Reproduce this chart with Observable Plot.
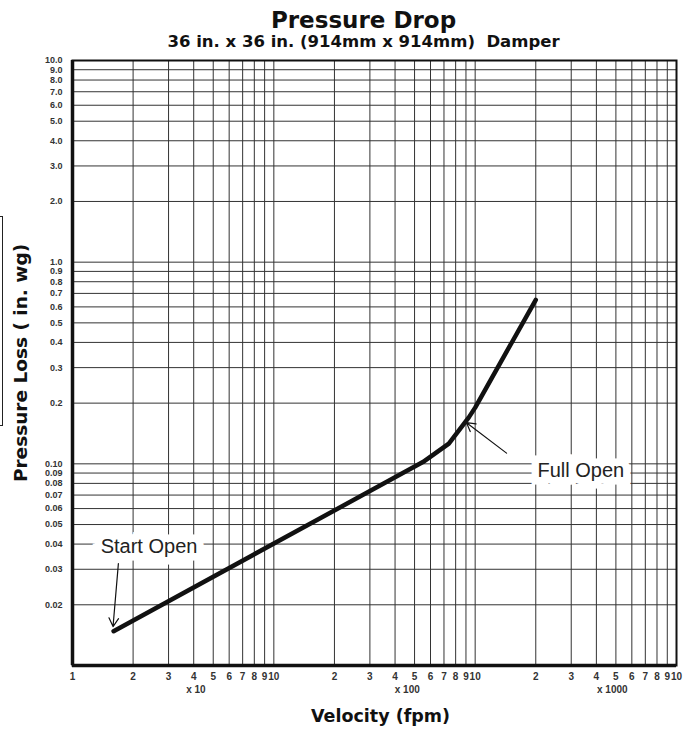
<!DOCTYPE html>
<html>
<head>
<meta charset="utf-8">
<script src="https://cdn.jsdelivr.net/npm/d3@7"></script>
<script src="https://cdn.jsdelivr.net/npm/@observablehq/plot@0.6"></script>
<style>
  html, body { margin: 0; padding: 0; background: #fff; }
  #wrap { position: relative; width: 693px; height: 734px; }
  #bracket { position: absolute; left: -4px; top: 216px; width: 6px; height: 208px;
             border: 1.5px solid #222; border-left: none; }
  svg { font-family: "Liberation Sans", Arial, Helvetica, sans-serif; }
</style>
</head>
<body>
<div id="wrap"><div id="bracket"></div></div>
<script>
// ---- data ----
const velocity = [16, 550, 740, 930, 1000, 2000];          // fpm
const pressure = [0.0148, 0.102, 0.126, 0.170, 0.19, 0.65]; // in. wg

const xTicks = [10,20,30,40,50,60,70,80,90,100,200,300,400,500,600,700,800,900,1000,2000,3000,4000,5000,6000,7000,8000,9000,10000];
const xTickLabels = ["1","2","3","4","5","6","7","8","9","10","2","3","4","5","6","7","8","9","10","2","3","4","5","6","7","8","9","10"];
const xMultPos = [41, 460, 4800];
const xMultLabels = ["x 10", "x 100", "x 1000"];

const yTicks = [0.02,0.03,0.04,0.05,0.06,0.07,0.08,0.09,0.1,0.2,0.3,0.4,0.5,0.6,0.7,0.8,0.9,1,2,3,4,5,6,7,8,9,10];
const yTickLabels = ["0.02","0.03","0.04","0.05","0.06","0.07","0.08","0.09","0.10","0.2","0.3","0.4","0.5","0.6","0.7","0.8","0.9","1.0","2.0","3.0","4.0","5.0","6.0","7.0","8.0","9.0","10.0"];

const noteLabels = ["Start Open", "Full Open"];
const noteX = [24, 3350];
const noteY = [0.039, 0.093];
const arrowX1 = [16.9, 1432];
const arrowY1 = [0.032, 0.113];
const arrowX2 = [15.9, 906];
const arrowY2 = [0.0156, 0.160];

const title = "Pressure Drop";
const subtitle = "36 in. x 36 in. (914mm x 914mm)  Damper";
const xTitle = "Velocity (fpm)";
const yTitle = "Pressure Loss ( in. wg)";

// ---- tables ----
const curve = velocity.map((v, i) => ({v, p: pressure[i]}));
const xt = xTicks.map((v, i) => ({v, label: xTickLabels[i]}));
const yt = yTicks.map((v, i) => ({v, label: yTickLabels[i]}));
const mult = xMultPos.map((v, i) => ({v, label: xMultLabels[i]}));
const notes = noteLabels.map((t, i) => ({t, x: noteX[i], y: noteY[i]}));
const arrows = arrowX1.map((x1, i) => ({x1, y1: arrowY1[i], x2: arrowX2[i], y2: arrowY2[i]}));

const heavy = "'DejaVu Sans', 'Liberation Sans', sans-serif";

const chart = Plot.plot({
  width: 693,
  height: 734,
  marginTop: 60,
  marginBottom: 69,
  marginLeft: 72,
  marginRight: 17,
  x: {type: "log", domain: [10, 10000], axis: null},
  y: {type: "log", domain: [0.01, 10], axis: null},
  marks: [
    Plot.ruleX(xt, {x: "v", stroke: "#333", strokeWidth: 1}),
    Plot.ruleY(yt, {y: "v", stroke: "#333", strokeWidth: 1}),
    Plot.frame({stroke: "#111", strokeWidth: 2}),
    Plot.ruleX([10], {stroke: "#111", strokeWidth: 3.5}),
    Plot.ruleY([0.01], {stroke: "#111", strokeWidth: 3.5}),
    Plot.line(curve, {x: "v", y: "p", stroke: "#111", strokeWidth: 4.5, strokeLinejoin: "round"}),
    Plot.arrow(arrows, {x1: "x1", y1: "y1", x2: "x2", y2: "y2", stroke: "#111", strokeWidth: 1.2, headLength: 12, bend: false}),
    Plot.text(notes, {x: "x", y: "y", text: "t", fontSize: 20, fill: "#222", lineAnchor: "middle",
      stroke: "white", strokeWidth: 15, strokeLinejoin: "miter", paintOrder: "stroke"}),
    // tick labels
    Plot.text(xt, {x: "v", text: "label", frameAnchor: "bottom", lineAnchor: "middle", dy: 11, fontSize: 10, fontWeight: "bold", fill: "#333"}),
    Plot.text(mult, {x: "v", text: "label", frameAnchor: "bottom", lineAnchor: "middle", dy: 24, fontSize: 10, fontWeight: "bold", fill: "#333"}),
    Plot.text(yt, {y: "v", text: "label", frameAnchor: "left", lineAnchor: "middle", dx: -10, textAnchor: "end", fontSize: 9, fontWeight: "bold", fill: "#333"}),
    // titles
    Plot.text([title], {frameAnchor: "top", lineAnchor: "middle", dx: -11, dy: -40, fontSize: 23, fontWeight: "bold", fontFamily: heavy, fill: "#111"}),
    Plot.text([subtitle], {frameAnchor: "top", lineAnchor: "middle", dx: -11, dy: -19, fontSize: 16.5, fontWeight: "bold", fontFamily: heavy, fill: "#111"}),
    Plot.text([xTitle], {frameAnchor: "bottom", lineAnchor: "middle", dx: 6, dy: 51, fontSize: 17.5, fontWeight: "bold", fontFamily: heavy, fill: "#111"}),
    Plot.text([yTitle], {frameAnchor: "left", lineAnchor: "middle", textAnchor: "middle", dx: -51, rotate: -90, fontSize: 18.5, fontWeight: "bold", fontFamily: heavy, fill: "#111"})
  ]
});
document.getElementById("wrap").appendChild(chart);
</script>
</body>
</html>
